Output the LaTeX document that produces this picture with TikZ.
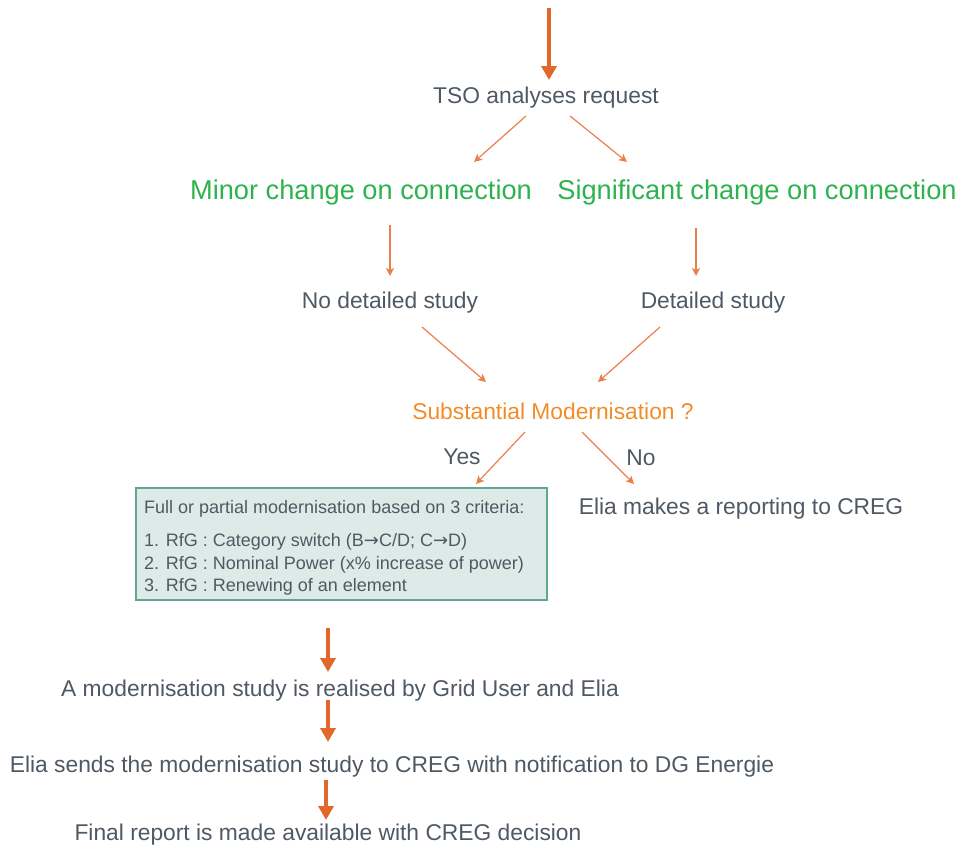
\documentclass[tikz,border=0pt]{standalone}
\usepackage{fontspec}
\setmainfont{Liberation Sans}
\newfontfamily\arrfont{DejaVu Sans}
\usetikzlibrary{arrows.meta}
\definecolor{txt}{HTML}{4F5963}
\definecolor{grn}{HTML}{2DB34E}
\definecolor{orgtxt}{HTML}{F28C28}
\definecolor{arr}{HTML}{E2672A}
\definecolor{arrthin}{HTML}{EC7E4C}
\definecolor{boxfill}{HTML}{DEEAE7}
\definecolor{boxline}{HTML}{5FA897}
\newcommand{\rarr}{{\arrfont\fontsize{18}{20}\selectfont →}}
\tikzset{
  lbl/.style={text=txt, font=\fontsize{22.8}{26}\selectfont, inner sep=0pt},
  glbl/.style={text=grn, font=\fontsize{27.2}{31}\selectfont, inner sep=0pt},
  olbl/.style={text=orgtxt, font=\fontsize{22.8}{26}\selectfont, inner sep=0pt},
  thin/.style={draw=arrthin, line width=1.2pt, -{Stealth[length=8pt,width=8pt,inset=2pt]}},
  thick/.style={draw=arr, line width=4.5pt, -{Triangle[length=14pt,width=15pt]}},
  critbox/.style={draw=boxline, line width=1.2pt, fill=boxfill, minimum width=411pt, minimum height=112pt,
     inner sep=0pt},
  crittext/.style={text=txt, align=left, font=\fontsize{18}{22.5}\selectfont, inner sep=0pt, anchor=north west}
}
\begin{document}
\begin{tikzpicture}[x=1pt,y=-1pt]
\useasboundingbox (0,0) rectangle (962,849);
\coordinate (top) at (549,8);
\node[lbl] (tso) at (546,98) {TSO analyses request};
\node[glbl] (minor) at (361,192) {Minor change on connection};
\node[glbl] (sig) at (757,192) {Significant change on connection};
\node[lbl] (nods) at (390,303) {No detailed study};
\node[lbl] (ds) at (713,303) {Detailed study};
\node[olbl] (sm) at (553,411) {Substantial Modernisation ?};
\node[lbl] (yes) at (462,457) {Yes};
\node[lbl] (no) at (641,458) {No};
\node[critbox] (crit) at (341.5,544) {};
\node[crittext] (crittxt) at (144,500) {%
Full or partial modernisation based on 3 criteria:\\[11pt]
1. RfG : Category switch (B\rarr C/D; C\rarr D)\\
2. RfG : Nominal Power (x\% increase of power)\\
3. RfG : Renewing of an element};
\node[lbl] (report) at (741,509) {Elia makes a reporting to CREG};
\node[lbl] (study) at (340,691) {A modernisation study is realised by Grid User and Elia};
\node[lbl] (sends) at (392,767) {Elia sends the modernisation study to CREG with notification to DG Energie};
\node[lbl] (final) at (328,835) {Final report is made available with CREG decision};

\draw[thick] (top) -- (549,80);
\draw[thin] (526,116) -- (474,162);
\draw[thin] (570,116) -- (627,162);
\draw[thin] (390,225) -- (390,276);
\draw[thin] (696,228) -- (696,276);
\draw[thin] (422,327) -- (486,382);
\draw[thin] (660,327) -- (598,382);
\draw[thin] (525,432) -- (476,484);
\draw[thin] (582,432) -- (634,484);
\draw[thick] (328,628) -- (328,672);
\draw[thick] (328,700) -- (328,742);
\draw[thick] (326,780) -- (326,820);
\end{tikzpicture}
\end{document}
